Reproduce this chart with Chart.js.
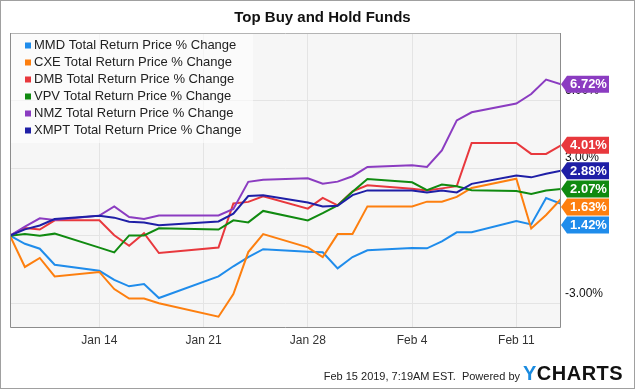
<!DOCTYPE html>
<html>
<head>
<meta charset="utf-8">
<script src="https://cdn.jsdelivr.net/npm/chart.js@4.4.1/dist/chart.umd.min.js"></script>
<style>
  html, body { margin: 0; padding: 0; background: #fff; }
  #wrap { width: 635px; height: 389px; }
</style>
</head>
<body>
<div id="wrap"><canvas id="chart" width="635" height="389"></canvas></div>
<script>
// trading days, counted from Jan 8 2019
const days = [0, 1, 2, 3, 6, 7, 8, 9, 10, 14, 15, 16, 17, 20, 21, 22, 23, 24, 27, 28, 29, 30, 31, 34, 35, 36, 37];

const mmd  = [0, -0.36, -0.58, -1.29, -1.56, -1.96, -2.25, -2.15, -2.77, -1.81, -1.36, -0.95, -0.6, -0.71, -0.74, -1.45, -0.95, -0.65, -0.55, -0.56, -0.25, 0.15, 0.15, 0.65, 0.5, 1.67, 1.42];
const cxe  = [0, -1.39, -0.99, -1.81, -1.61, -2.37, -2.79, -2.79, -3.0, -3.6, -2.59, -0.73, 0.07, -0.52, -0.95, 0.07, 0.07, 1.3, 1.3, 1.51, 1.51, 1.72, 2.12, 2.53, 0.32, 0.92, 1.63];
const dmb  = [0, 0.34, 0.27, 0.68, 0.68, 0.02, -0.45, 0.11, -0.77, -0.53, 1.43, 1.5, 1.75, 1.2, 1.68, 1.35, 1.97, 2.24, 2.08, 2.01, 2.1, 2.2, 4.12, 4.12, 3.63, 3.63, 4.01];
const vpv  = [0, 0.07, 0, 0.09, -0.53, -0.74, 0.01, 0.01, 0.33, 0.27, 0.68, 0.59, 1.1, 0.68, 1.0, 1.34, 1.95, 2.52, 2.37, 2.02, 2.27, 2.19, 2.02, 1.98, 1.85, 2.01, 2.07];
const nmz  = [0, 0.4, 0.77, 0.7, 0.89, 1.3, 0.83, 0.74, 0.9, 0.9, 1.19, 2.39, 2.48, 2.55, 2.31, 2.4, 2.64, 3.05, 3.13, 3.05, 3.79, 5.12, 5.48, 5.87, 6.29, 6.93, 6.72];
const xmpt = [0, 0.28, 0.45, 0.74, 0.88, 0.8, 0.62, 0.58, 0.46, 0.63, 0.98, 1.76, 1.79, 1.47, 1.3, 1.33, 1.8, 2.01, 2.01, 1.92, 2.01, 1.92, 2.3, 2.67, 2.59, 2.75, 2.88];

const seriesNames = [
  'MMD Total Return Price % Change',
  'CXE Total Return Price % Change',
  'DMB Total Return Price % Change',
  'VPV Total Return Price % Change',
  'NMZ Total Return Price % Change',
  'XMPT Total Return Price % Change',
];
const seriesValues = [mmd, cxe, dmb, vpv, nmz, xmpt];
const seriesColors = ['#1f8ceb', '#fd7f0f', '#e8383d', '#108a10', '#8b3cc1', '#1f1fa6'];

const xTickDays   = [6, 13, 20, 27, 34];
const xTickLabels = ['Jan 14', 'Jan 21', 'Jan 28', 'Feb 4', 'Feb 11'];
const yTicks      = [-3, 0, 3, 6];

const FONT = "'Liberation Sans', Arial, sans-serif";

const datasets = seriesValues.map((vals, i) => ({
  label: seriesNames[i],
  data: vals.map((v, j) => ({ x: days[j], y: v })),
  borderColor: seriesColors[i],
  backgroundColor: seriesColors[i],
  borderWidth: 2,
  pointRadius: 0,
  tension: 0,
  order: -i,
}));

const decorPlugin = {
  id: 'decor',
  beforeDraw(chart) {
    const { ctx, chartArea: a } = chart;
    ctx.save();
    ctx.fillStyle = '#fff';
    ctx.fillRect(0, 0, chart.width, chart.height);
    ctx.fillStyle = '#f6f6f6';
    ctx.fillRect(a.left, a.top, a.right - a.left, a.bottom - a.top);
    ctx.restore();
  },
  afterDatasetsDraw(chart) {
    const { ctx, chartArea: a } = chart;
    ctx.save();
    // legend box inside the plot
    ctx.fillStyle = 'rgba(255,255,255,0.6)';
    ctx.fillRect(a.left + 1, a.top + 1, 242, 109);
    ctx.font = `13px ${FONT}`;
    ctx.textBaseline = 'middle';
    seriesNames.forEach((name, i) => {
      const y = a.top + 12.5 + i * 17;
      ctx.fillStyle = seriesColors[i];
      ctx.fillRect(a.left + 15, y - 3, 6, 6);
      ctx.fillStyle = '#222';
      ctx.fillText(name, a.left + 24, y);
    });
    ctx.restore();
  },
  afterDraw(chart) {
    const { ctx, chartArea: a } = chart;
    const yScale = chart.scales.y;
    ctx.save();

    // plot frame
    ctx.strokeStyle = '#b4b4b4';
    ctx.lineWidth = 1;
    ctx.beginPath();
    ctx.moveTo(a.left, a.top + 0.5);
    ctx.lineTo(a.right, a.top + 0.5);
    ctx.stroke();
    ctx.strokeStyle = '#8c8c8c';
    ctx.beginPath();
    ctx.moveTo(a.left + 0.5, a.top);
    ctx.lineTo(a.left + 0.5, a.bottom - 0.5);
    ctx.lineTo(a.right - 0.5, a.bottom - 0.5);
    ctx.lineTo(a.right - 0.5, a.top);
    ctx.stroke();

    // end-value tags, pushed apart when they collide
    const tags = seriesValues.map((vals, i) => {
      const v = vals[vals.length - 1];
      return { v, color: seriesColors[i], y: yScale.getPixelForValue(v) };
    }).sort((p, q) => p.y - q.y);
    const h = 17;
    for (let i = 1; i < tags.length; i++) {
      if (tags[i].y < tags[i - 1].y + h + 1) tags[i].y = tags[i - 1].y + h + 1;
    }
    const tip = a.right;
    const right = tip + 48;
    ctx.font = `bold 13px ${FONT}`;
    ctx.textAlign = 'center';
    ctx.textBaseline = 'middle';
    tags.forEach(t => {
      ctx.fillStyle = t.color;
      ctx.beginPath();
      ctx.moveTo(tip, t.y);
      ctx.lineTo(tip + 6, t.y - h / 2);
      ctx.lineTo(right, t.y - h / 2);
      ctx.lineTo(right, t.y + h / 2);
      ctx.lineTo(tip + 6, t.y + h / 2);
      ctx.closePath();
      ctx.fill();
      ctx.fillStyle = '#fff';
      ctx.fillText(t.v.toFixed(2) + '%', (tip + 6 + right) / 2 + 0.5, t.y + 0.5);
    });

    // footer
    ctx.textAlign = 'right';
    ctx.font = `11px ${FONT}`;
    ctx.fillStyle = '#222';
    ctx.fillText('Feb 15 2019, 7:19AM EST.  Powered by', 520, 377);
    ctx.textAlign = 'left';
    ctx.font = `bold 20px ${FONT}`;
    ctx.letterSpacing = '0.5px';
    ctx.fillStyle = '#1a8be0';
    ctx.fillText('Y', 523, 374);
    const yw = ctx.measureText('Y').width;
    ctx.fillStyle = '#111';
    ctx.fillText('CHARTS', 523 + yw, 374);
    ctx.letterSpacing = '0px';

    // outer frame
    ctx.strokeStyle = '#a0a0a0';
    ctx.strokeRect(0.5, 0.5, chart.width - 1, chart.height - 1);
    ctx.restore();
  },
};

new Chart(document.getElementById('chart'), {
  type: 'line',
  data: { datasets },
  plugins: [decorPlugin],
  options: {
    responsive: false,
    animation: false,
    devicePixelRatio: 1,
    layout: { padding: { left: 10, right: 0, top: 0, bottom: 0 } },
    plugins: {
      legend: { display: false },
      tooltip: { enabled: false },
      title: {
        display: true,
        text: 'Top Buy and Hold Funds',
        color: '#111',
        font: { family: FONT, size: 15, weight: 'bold' },
        padding: { top: 9, bottom: 6 },
      },
    },
    scales: {
      x: {
        type: 'linear',
        min: days[0],
        max: days[days.length - 1],
        grid: { color: '#e4e4e4', drawTicks: false },
        border: { display: false },
        ticks: {
          padding: 5,
          color: '#333',
          font: { family: FONT, size: 12 },
          maxRotation: 0,
          callback: v => xTickLabels[xTickDays.indexOf(v)] || '',
        },
        afterBuildTicks: s => { s.ticks = xTickDays.map(v => ({ value: v })); },
        afterFit: s => { s.height = 61; },
      },
      y: {
        position: 'right',
        min: -4.1,
        max: 9,
        grid: { color: '#e4e4e4', drawTicks: false },
        border: { display: false },
        ticks: {
          padding: 4,
          labelOffset: -10,
          color: '#111',
          font: { family: FONT, size: 12 },
          callback: v => v.toFixed(2) + '%',
        },
        afterBuildTicks: s => { s.ticks = yTicks.map(v => ({ value: v })); },
        afterFit: s => { s.width = 74; },
      },
    },
  },
});
</script>
</body>
</html>
